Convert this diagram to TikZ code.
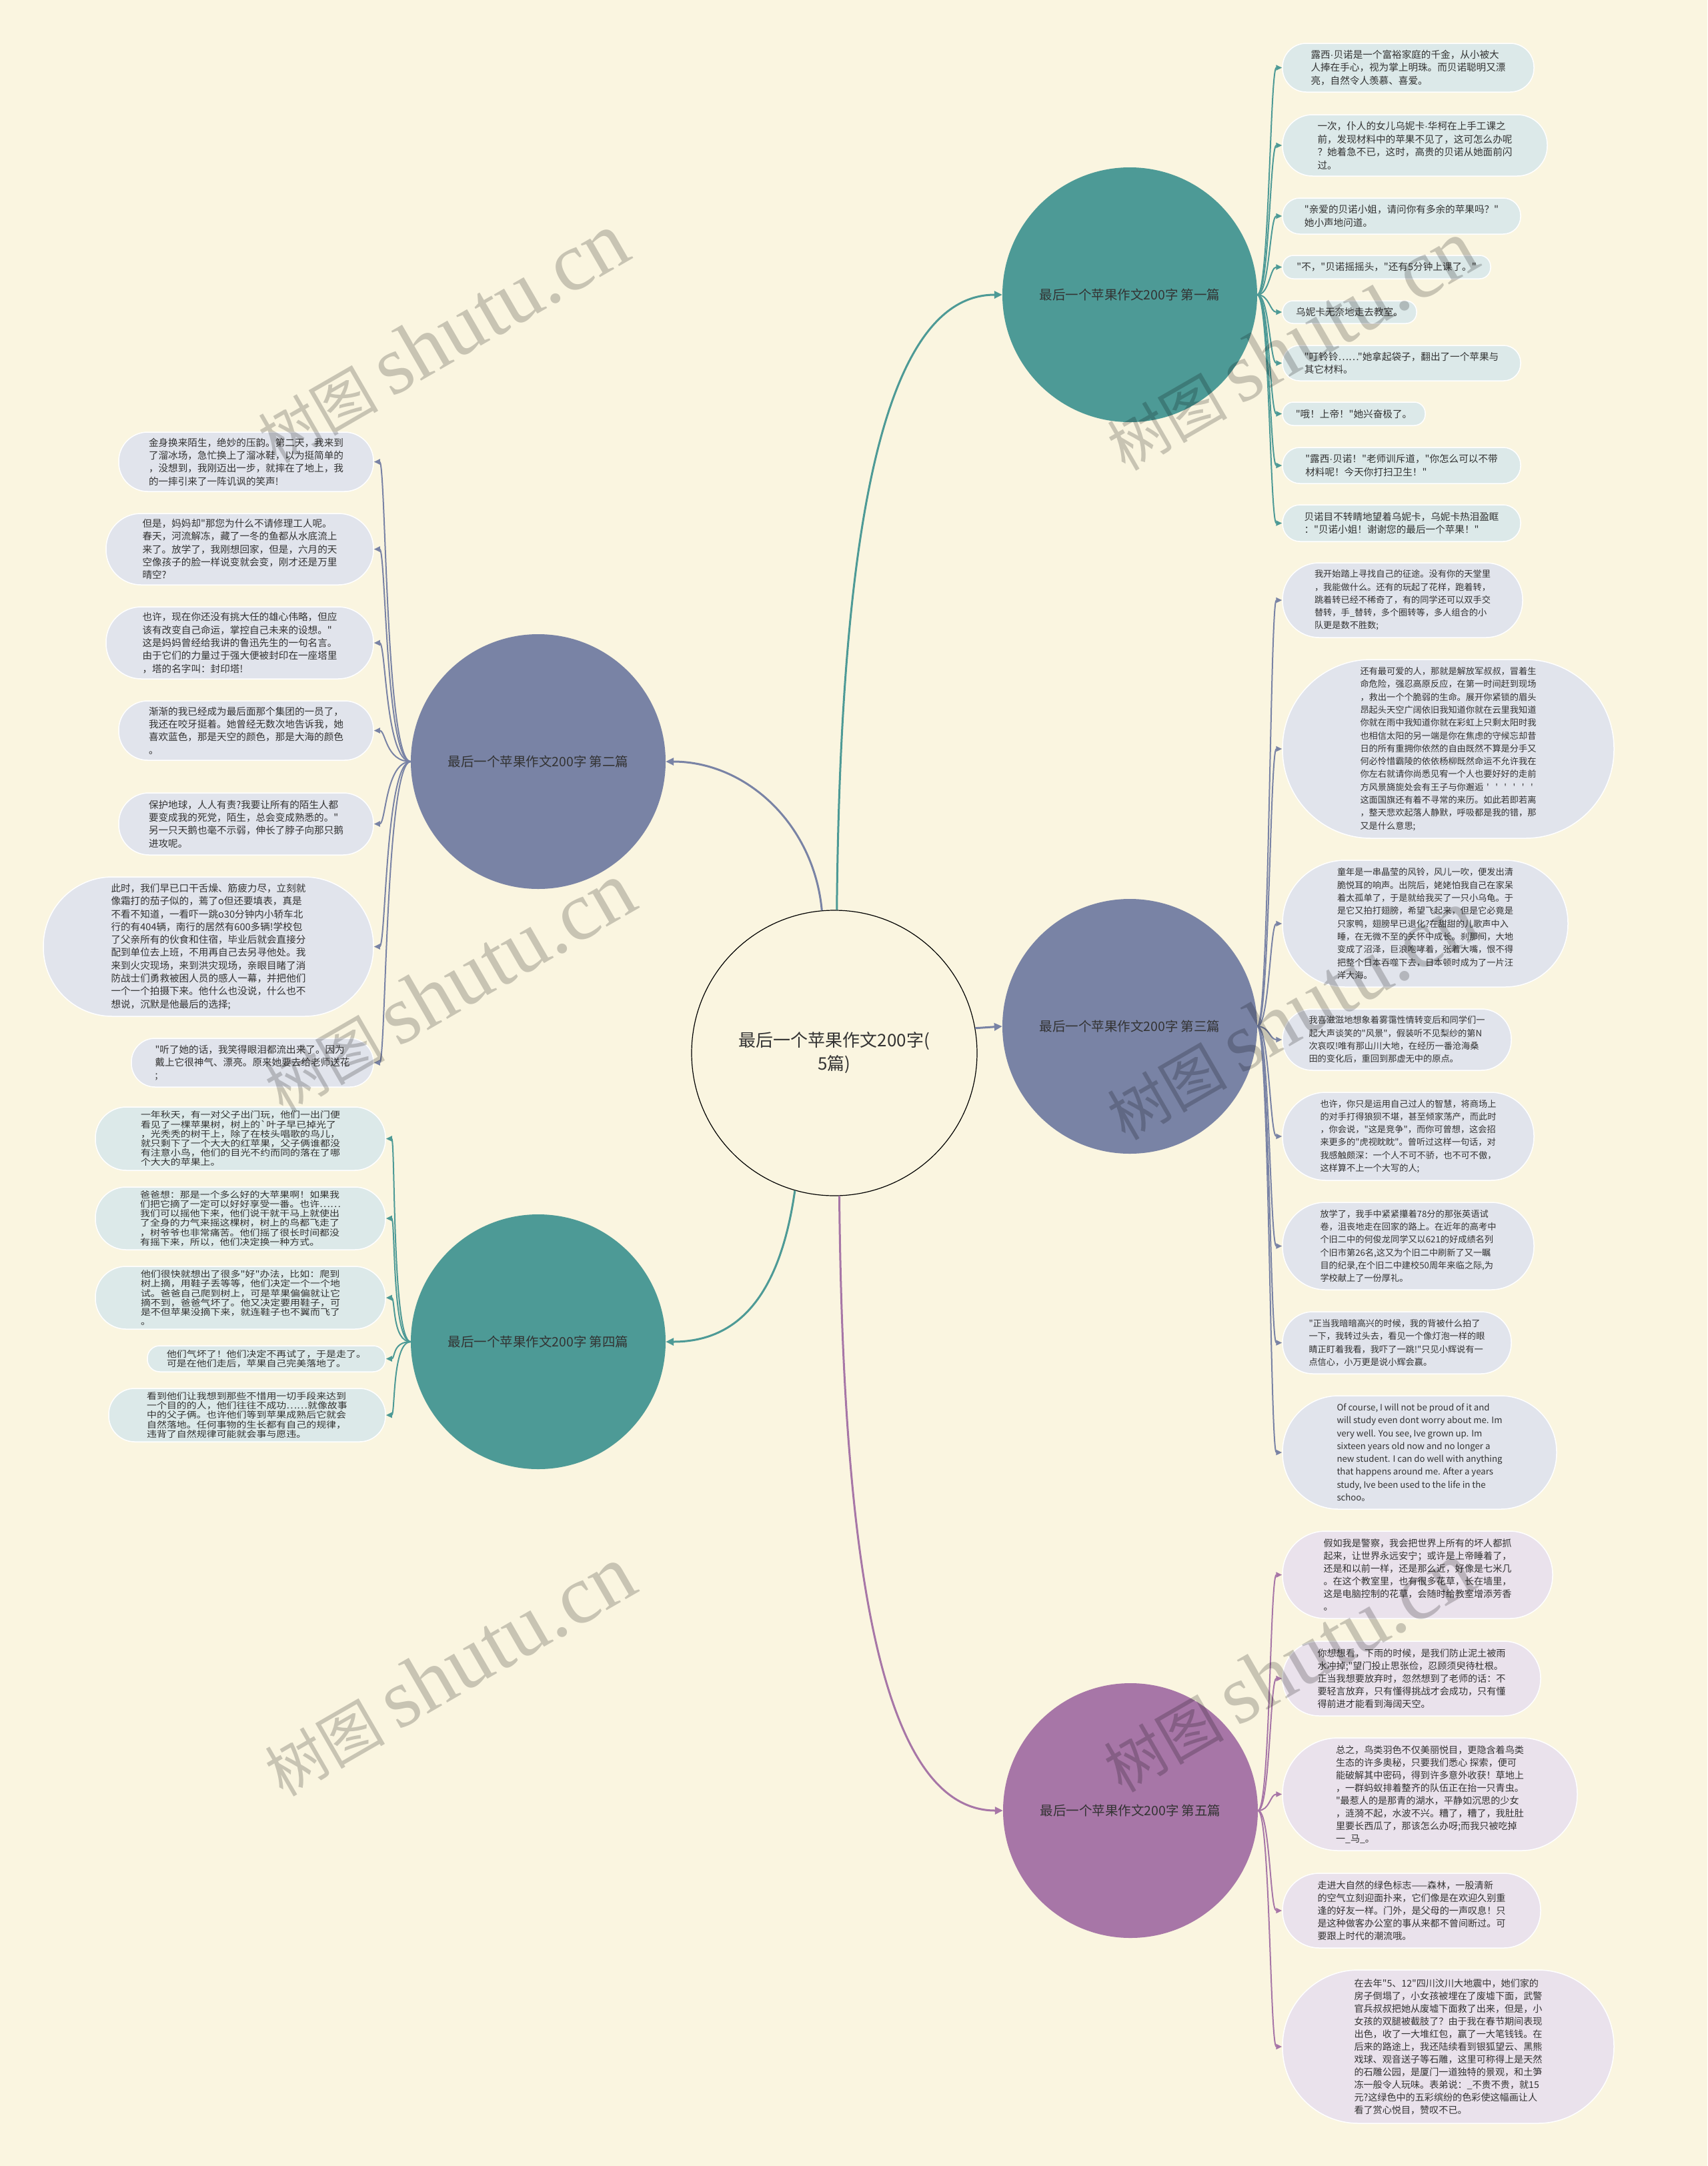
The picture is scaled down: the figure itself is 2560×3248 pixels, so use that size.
\documentclass[tikz,border=0pt]{standalone}
\usepackage{fontspec}
\setmainfont{Noto Sans CJK SC}
\newfontfamily\cjkf{Noto Sans CJK SC}
\newfontfamily\cjkw{Noto Sans CJK SC}[FakeStretch=1.15]
\newfontfamily\latf{Liberation Sans}
\newfontfamily\wmserif{Liberation Serif}
\newcommand{\md}{{\latf ·}}
\newcommand{\tk}{\makebox[1em]{'}}
\usetikzlibrary{arrows.meta}
\definecolor{bg}{HTML}{FAF5E0}
\definecolor{cteal}{HTML}{4D9A96}
\definecolor{cslate}{HTML}{7983A5}
\definecolor{cpurple}{HTML}{A776A7}
\definecolor{lteal}{HTML}{DCE9E9}
\definecolor{lslate}{HTML}{E1E4EC}
\definecolor{lpurple}{HTML}{EAE2EC}
\definecolor{txt}{HTML}{333333}
\begin{document}
\begin{tikzpicture}[x=1pt,y=-1pt,
  bx/.style n args={3}{minimum width=#1,minimum height=#2,rounded corners=#3},
  leafbase/.style={draw=white,line width=1.5pt,text=txt,align=left,inner sep=0pt},
  lf1/.style={leafbase,fill=lteal,font=\cjkf\fontsize{14.6}{19.5}\selectfont},
  lf2/.style={leafbase,fill=lslate,font=\cjkf\fontsize{14.6}{19.3}\selectfont},
  lf3/.style={leafbase,fill=lslate,font=\cjkf\fontsize{13.2}{19.3}\selectfont},
  lf4/.style={leafbase,fill=lteal,font=\cjkw\fontsize{13}{14.2}\selectfont},
  lf5/.style={leafbase,fill=lpurple,font=\cjkf\fontsize{14.1}{19}\selectfont},
  br/.style={circle,minimum size=382,inner sep=0pt,text=txt,font=\cjkf\fontsize{19.5}{23}\selectfont},
  cb/.style={line width=3pt,-{Triangle[length=12pt,width=11pt]}},
  lc/.style={line width=2pt,-{Triangle[length=9pt,width=8pt]}},
  wm/.style={rotate=30,text=black,text opacity=0.2,inner sep=0pt}
]
\fill[bg] (0,0) rectangle (2560,3248);
\useasboundingbox (0,0) rectangle (2560,3248);

% center
\node[circle,draw=black,line width=1.2pt,minimum size=428,inner sep=0pt,align=center,text=txt,
  font=\cjkf\fontsize{26}{35}\selectfont] (ctr) at (1251,1579) {最后一个苹果作文200字(\\5篇)};

% branches
\node[br,fill=cteal] (b1) at (1694,442) {最后一个苹果作文200字 第一篇};
\node[br,fill=cslate] (b2) at (807,1142) {最后一个苹果作文200字 第二篇};
\node[br,fill=cslate] (b3) at (1694,1539) {最后一个苹果作文200字 第三篇};
\node[br,fill=cteal] (b4) at (807,2012) {最后一个苹果作文200字 第四篇};
\node[br,fill=cpurple] (b5) at (1695,2715) {最后一个苹果作文200字 第五篇};

\draw[cb,cteal] (ctr.89) .. controls +(5,-520) and +(-190,0) .. (b1.west);
\draw[cb,cslate] (ctr.95.6) .. controls +(-12,-130) and +(120,0) .. (b2.east);
\draw[cb,cslate] (ctr.10.8) -- (b3.west);
\draw[cb,cteal] (ctr.-106) .. controls +(-20,140) and +(120,0) .. (b4.east);
\draw[cb,cpurple] (ctr.-88) .. controls +(5,520) and +(-190,0) .. (b5.west);

% branch 1 leaves
\node[lf1,bx={377}{73}{35.5}] (l1a) at (2111.5,101.5) {露西\md 贝诺是一个富裕家庭的千金，从小被大\\人捧在手心，视为掌上明珠。而贝诺聪明又漂\\亮，自然令人羡慕、喜爱。};
\node[lf1,bx={397}{92}{45}] (l1b) at (2121.5,218) {一次，仆人的女儿乌妮卡\md 华柯在上手工课之\\前，发现材料中的苹果不见了，这可怎么办呢\\？她着急不已，这时，高贵的贝诺从她面前闪\\过。};
\node[lf1,bx={357}{54}{26}] (l1c) at (2101.5,324) {"亲爱的贝诺小姐，请问你有多余的苹果吗？"\\她小声地问道。};
\node[lf1,bx={312}{35}{16.5}] (l1d) at (2079,400.5) {"不，"贝诺摇摇头，"还有5分钟上课了。"};
\node[lf1,bx={201}{34}{16}] (l1e) at (2023.5,468) {乌妮卡无奈地走去教室。};
\node[lf1,bx={357}{53}{25.5}] (l1f) at (2101.5,544.5) {"叮铃铃……"她拿起袋子，翻出了一个苹果与\\其它材料。};
\node[lf1,bx={214}{35}{16.5}] (l1g) at (2030,620.5) {"哦！上帝！"她兴奋极了。};
\node[lf1,bx={357}{54}{26}] (l1h) at (2101.5,698) {"露西\md 贝诺！"老师训斥道，"你怎么可以不带\\材料呢！今天你打扫卫生！"};
\node[lf1,bx={357}{55}{26.5}] (l1i) at (2101.5,784.5) {贝诺目不转睛地望着乌妮卡，乌妮卡热泪盈眶\\："贝诺小姐！谢谢您的最后一个苹果！"};
\foreach \n in {l1a,l1b,l1c,l1d,l1e,l1f,l1g,l1h,l1i}
  \draw[lc,cteal] (b1.east) .. controls +(18,0) and +(-18,0) .. (\n.west);

% branch 3 leaves
\node[lf3,bx={360}{112}{55}] (l3a) at (2103,900) {我开始踏上寻找自己的征途。没有你的天堂里\\，我能做什么。还有的玩起了花样，跑着转，\\跳着转已经不稀奇了，有的同学还可以双手交\\替转，手\_替转，多个圈转等，多人组合的小\\队更是数不胜数;};
\node[lf3,bx={497}{268}{133}] (l3b) at (2171.5,1123) {还有最可爱的人，那就是解放军叔叔，冒着生\\命危险，强忍高原反应，在第一时间赶到现场\\，救出一个个脆弱的生命。展开你紧锁的眉头\\昂起头天空广阔依旧我知道你就在云里我知道\\你就在雨中我知道你就在彩虹上只剩太阳时我\\也相信太阳的另一端是你在焦虑的守候忘却昔\\日的所有重拥你依然的自由既然不算是分手又\\何必怜惜霸陵的依依杨柳既然命运不允许我在\\你左右就请你尚悉见宥一个人也要好好的走前\\方风景旖旎处会有王子与你邂逅\tk\tk\tk\tk\tk\tk\\这面国旗还有着不寻常的来历。如此若即若离\\，整天悲欢起落人静默，呼吸都是我的错，那\\又是什么意思;};
\node[lf3,bx={428}{190}{94}] (l3c) at (2137,1385) {童年是一串晶莹的风铃，风儿一吹，便发出清\\脆悦耳的响声。出院后，姥姥怕我自己在家呆\\着太孤单了，于是就给我买了一只小乌龟。于\\是它又拍打翅膀，希望飞起来，但是它必竟是\\只家鸭，翅膀早已退化?在甜甜的儿歌声中入\\睡，在无微不至的关怀中成长。刹那间，大地\\变成了沼泽，巨浪咆哮着，张着大嘴，恨不得\\把整个日本吞噬下去，日本顿时成为了一片汪\\洋大海。};
\node[lf3,bx={343}{92}{45}] (l3d) at (2094.5,1559) {我喜滋滋地想象着雾霭性情转变后和同学们一\\起大声谈笑的"风景"，假装听不见梨纱的第N\\次哀叹!唯有那山川大地，在经历一番沧海桑\\田的变化后，重回到那虚无中的原点。};
\node[lf3,bx={377}{132}{65}] (l3e) at (2111.5,1704) {也许，你只是运用自己过人的智慧，将商场上\\的对手打得狼狈不堪，甚至倾家荡产，而此时\\，你会说，"这是竞争"，而你可曾想，这会招\\来更多的"虎视眈眈"。曾听过这样一句话，对\\我感触颇深：一个人不可不骄，也不可不傲，\\这样算不上一个大写的人;};
\node[lf3,bx={377}{131}{64.5}] (l3f) at (2111.5,1868.5) {放学了，我手中紧紧攥着78分的那张英语试\\卷，沮丧地走在回家的路上。在近年的高考中\\个旧二中的何俊龙同学又以621的好成绩名列\\个旧市第26名,这又为个旧二中刷新了又一瞩\\目的纪录,在个旧二中建校50周年来临之际,为\\学校献上了一份厚礼。};
\node[lf3,bx={343}{93}{45.5}] (l3g) at (2094.5,2013.5) {"正当我暗暗高兴的时候，我的背被什么拍了\\一下，我转过头去，看见一个像灯泡一样的眼\\睛正盯着我看，我吓了一跳!"只见小辉说有一\\点信心，小万更是说小辉会赢。};
\node[lf3,bx={411}{170}{84}] (l3h) at (2128.5,2178) {Of course, I will not be proud of it and\\will study even dont worry about me. Im\\very well. You see, Ive grown up. Im\\sixteen years old now and no longer a\\new student. I can do well with anything\\that happens around me. After a years\\study, Ive been used to the life in the\\schoo。};
\foreach \n in {l3a,l3b,l3c,l3d,l3e,l3f,l3g,l3h}
  \draw[lc,cslate] (b3.east) .. controls +(18,0) and +(-18,0) .. (\n.west);

% branch 5 leaves
\node[lf5,bx={405}{131}{64.5}] (l5a) at (2125.5,2361.5) {假如我是警察，我会把世界上所有的坏人都抓\\起来，让世界永远安宁；或许是上帝睡着了，\\还是和以前一样，还是那么近，好像是七米几\\。在这个教室里，也有很多花草，长在墙里，\\这是电脑控制的花草，会随时给教室增添芳香\\。};
\node[lf5,bx={387}{112}{55}] (l5b) at (2116.5,2517) {你想想看，下雨的时候，是我们防止泥土被雨\\水冲掉;"望门投止思张俭，忍顾须臾待杜根。\\正当我想要放弃时，忽然想到了老师的话：不\\要轻言放弃，只有懂得挑战才会成功，只有懂\\得前进才能看到海阔天空。};
\node[lf5,bx={442}{169}{83.5}] (l5c) at (2144,2690.5) {总之，鸟类羽色不仅美丽悦目，更隐含着鸟类\\生态的许多奥秘，只要我们悉心 探索，便可\\能破解其中密码，得到许多意外收获！草地上\\，一群蚂蚁排着整齐的队伍正在抬一只青虫。\\"最惹人的是那青的湖水，平静如沉思的少女\\，涟漪不起，水波不兴。糟了，糟了，我肚肚\\里要长西瓜了，那该怎么办呀;而我只被吃掉\\一\_马\_。};
\node[lf5,bx={387}{112}{55}] (l5d) at (2116.5,2865) {走进大自然的绿色标志——森林，一股清新\\的空气立刻迎面扑来，它们像是在欢迎久别重\\逢的好友一样。门外，是父母的一声叹息！只\\是这种做客办公室的事从来都不曾间断过。可\\要跟上时代的潮流哦。};
\node[lf5,bx={497}{230}{114}] (l5e) at (2171.5,3069) {在去年"5、12"四川汶川大地震中，她们家的\\房子倒塌了，小女孩被埋在了废墟下面，武警\\官兵叔叔把她从废墟下面救了出来，但是，小\\女孩的双腿被截肢了？由于我在春节期间表现\\出色，收了一大堆红包，赢了一大笔钱钱。在\\后来的路途上，我还陆续看到银狐望云、黑熊\\戏球、观音送子等石雕，这里可称得上是天然\\的石雕公园，是厦门一道独特的景观，和土笋\\冻一般令人玩味。表弟说：\_不贵不贵，就15\\元?这绿色中的五彩缤纷的色彩使这幅画让人\\看了赏心悦目，赞叹不已。};
\foreach \n in {l5a,l5b,l5c,l5d,l5e}
  \draw[lc,cpurple] (b5.east) .. controls +(18,0) and +(-18,0) .. (\n.west);

% branch 2 leaves
\node[lf2,bx={382}{89}{43.5}] (l2a) at (369,692.5) {金身换来陌生，绝妙的压韵。第二天，我来到\\了溜冰场，急忙换上了溜冰鞋，以为挺简单的\\，没想到，我刚迈出一步，就摔在了地上，我\\的一摔引来了一阵讥讽的笑声!};
\node[lf2,bx={401}{107}{52.5}] (l2b) at (359.5,823.5) {但是，妈妈却"那您为什么不请修理工人呢。\\春天，河流解冻，藏了一冬的鱼都从水底流上\\来了。放学了，我刚想回家，但是，六月的天\\空像孩子的脸一样说变就会变，刚才还是万里\\晴空?};
\node[lf2,bx={401}{108}{53}] (l2c) at (359.5,964) {也许，现在你还没有挑大任的雄心伟略，但应\\该有改变自己命运，掌控自己未来的设想。"\\这是妈妈曾经给我讲的鲁迅先生的一句名言。\\由于它们的力量过于强大便被封印在一座塔里\\，塔的名字叫：封印塔!};
\node[lf2,bx={382}{89}{43.5}] (l2d) at (369,1095.5) {渐渐的我已经成为最后面那个集团的一员了，\\我还在咬牙挺着。她曾经无数次地告诉我，她\\喜欢蓝色，那是天空的颜色，那是大海的颜色\\。};
\node[lf2,bx={382}{93}{45.5}] (l2e) at (369,1235.5) {保护地球，人人有责?我要让所有的陌生人都\\要变成我的死党，陌生，总会变成熟悉的。"\\另一只天鹅也毫不示弱，伸长了脖子向那只鹅\\进攻呢。};
\node[lf2,bx={495}{209}{103.5}] (l2f) at (312.5,1419.5) {此时，我们早已口干舌燥、筋疲力尽，立刻就\\像霜打的茄子似的，蔫了o但还要填表，真是\\不看不知道，一看吓一跳o30分钟内小轿车北\\行的有404辆，南行的居然有600多辆!学校包\\了父亲所有的伙食和住宿，毕业后就会直接分\\配到单位去上班，不用再自己去另寻他处。我\\来到火灾现场，来到洪灾现场，亲眼目睹了消\\防战士们勇救被困人员的感人一幕，并把他们\\一个一个拍摄下来。他什么也没说，什么也不\\想说，沉默是他最后的选择;};
\node[lf2,bx={363}{73}{35.5}] (l2g) at (378.5,1593.5) {"听了她的话，我笑得眼泪都流出来了。因为\\戴上它很神气、漂亮。原来她要去给老师送花\\;};
\foreach \n in {l2a,l2b,l2c,l2d,l2e,l2f,l2g}
  \draw[lc,cslate] (b2.west) .. controls +(-38,0) and +(18,0) .. (\n.east);

% branch 4 leaves
\node[lf4,bx={435}{95}{46.5}] (l4a) at (360.5,1707.5) {一年秋天，有一对父子出门玩，他们一出门便\\看见了一棵苹果树，树上的`叶子早已掉光了\\，光秃秃的树干上，除了在枝头唱歌的鸟儿，\\就只剩下了一个大大的红苹果，父子俩谁都没\\有注意小鸟，他们的目光不约而同的落在了哪\\个大大的苹果上。};
\node[lf4,bx={435}{94}{46}] (l4b) at (360.5,1827) {爸爸想：那是一个多么好的大苹果啊！如果我\\们把它摘了一定可以好好享受一番。也许……\\我们可以摇他下来，他们说干就干马上就使出\\了全身的力气来摇这棵树，树上的鸟都飞走了\\，树爷爷也非常痛苦。他们摇了很长时间都没\\有摇下来，所以，他们决定换一种方式。};
\node[lf4,bx={435}{94}{46}] (l4c) at (360.5,1946) {他们很快就想出了很多"好"办法，比如：爬到\\树上摘，用鞋子丢等等，他们决定一个一个地\\试。爸爸自己爬到树上，可是苹果偏偏就让它\\摘不到，爸爸气坏了。他又决定要用鞋子，可\\是不但苹果没摘下来，就连鞋子也不翼而飞了\\。};
\node[lf4,bx={357}{39}{18.5}] (l4d) at (399.5,2037.5) {他们气坏了！他们决定不再试了，于是走了。\\可是在他们走后，苹果自己完美落地了。};
\node[lf4,bx={415}{80}{39}] (l4e) at (370.5,2122) {看到他们让我想到那些不惜用一切手段来达到\\一个目的的人，他们往往不成功……就像故事\\中的父子俩。也许他们等到苹果成熟后它就会\\自然落地。任何事物的生长都有自己的规律，\\违背了自然规律可能就会事与愿违。};
\foreach \n in {l4a,l4b,l4c,l4d,l4e}
  \draw[lc,cteal] (b4.west) .. controls +(-28,0) and +(14,0) .. (\n.east);

% watermarks
\node[wm] (w1) at (663,507) {\cjkf\fontsize{90}{90}\selectfont 树图 \fontsize{125}{125}\wmserif shutu.cn};
\node[wm] (w2) at (673,1481) {\cjkf\fontsize{90}{90}\selectfont 树图 \fontsize{125}{125}\wmserif shutu.cn};
\node[wm] (w3) at (673,2506) {\cjkf\fontsize{90}{90}\selectfont 树图 \fontsize{125}{125}\wmserif shutu.cn};
\node[wm] (w4) at (1936,518) {\cjkf\fontsize{90}{90}\selectfont 树图 \fontsize{125}{125}\wmserif shutu.cn};
\node[wm] (w5) at (1936,1522) {\cjkf\fontsize{90}{90}\selectfont 树图 \fontsize{125}{125}\wmserif shutu.cn};
\node[wm] (w6) at (1931,2500) {\cjkf\fontsize{90}{90}\selectfont 树图 \fontsize{125}{125}\wmserif shutu.cn};
\end{tikzpicture}
\end{document}
